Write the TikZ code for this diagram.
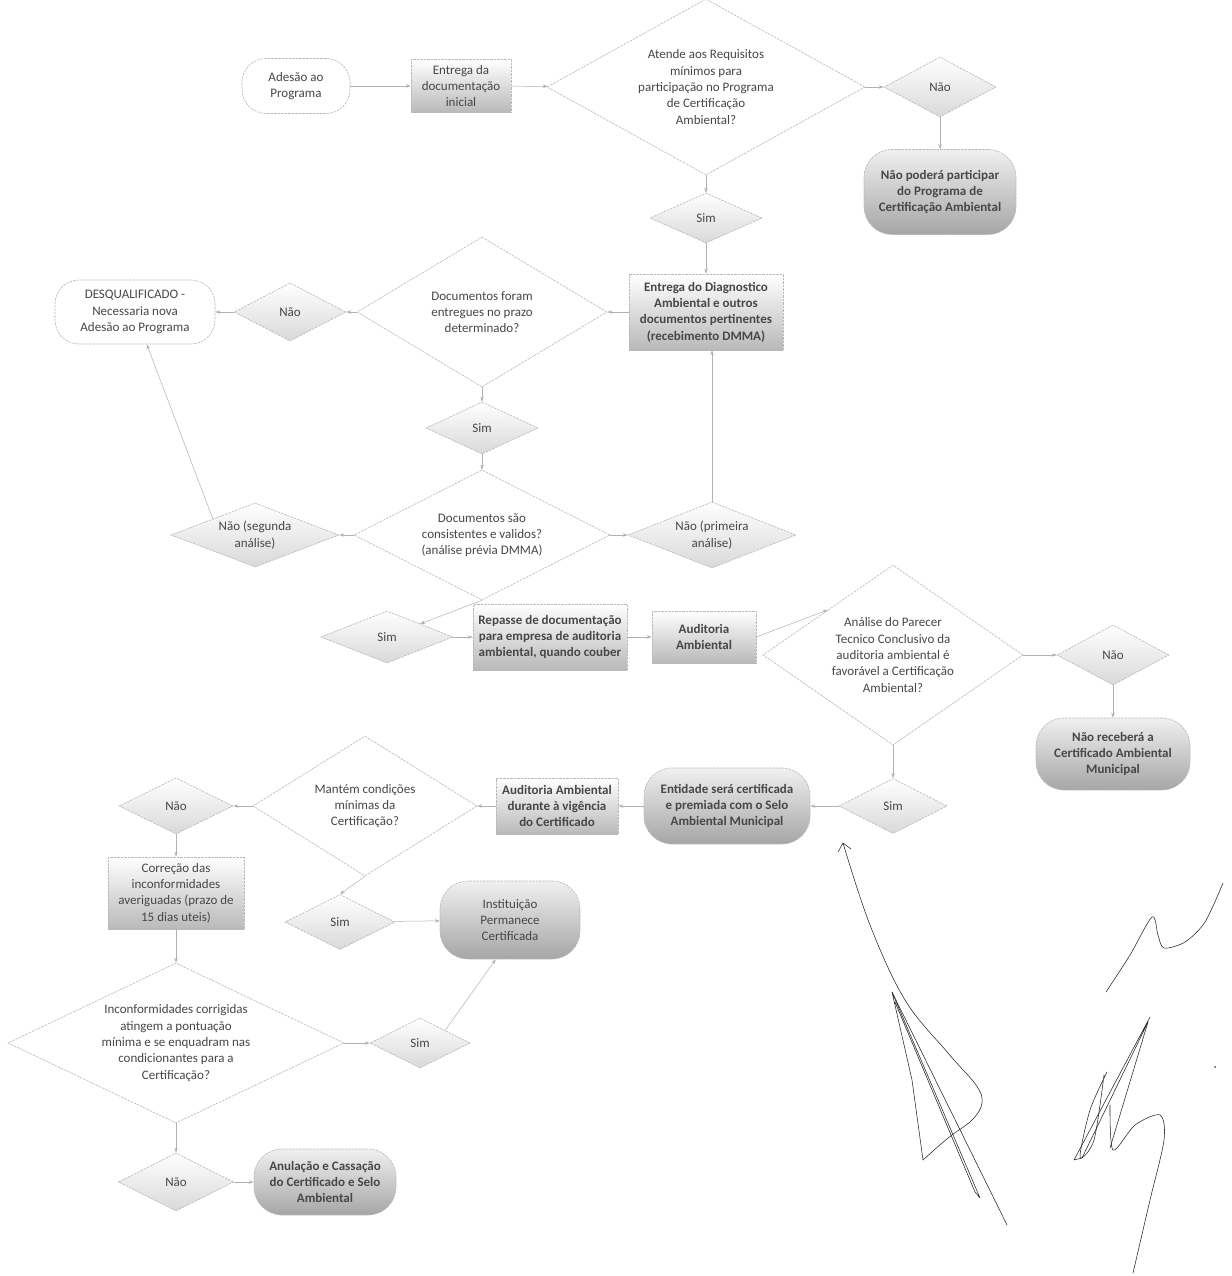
\documentclass[tikz,border=0pt]{standalone}
\usepackage{fontspec}
\setmainfont{Carlito}
\usepackage{tikz}
\usetikzlibrary{arrows.meta,shapes.geometric}

\begin{document}
\begin{tikzpicture}[x=1pt, y=-1pt,
  every node/.style={font=\fontsize{13}{16.3}\selectfont, text=black!72, align=center},
  fluxo/.style={draw=gray!60, line width=0.5pt, -{Stealth[length=5pt,width=3.5pt]}},
  borda/.style={draw=gray!55, line width=0.6pt, dash pattern=on 2.5pt off 1pt},
  decisao/.style={borda, diamond, aspect=2, inner sep=0pt, fill=white},
  resposta/.style={borda, diamond, aspect=2.6, inner sep=0pt, top color=white, bottom color=gray!30},
  processo/.style={borda, rectangle, inner sep=2pt, top color=white, bottom color=gray!55},
  negrito/.style={font=\fontsize{13}{16.3}\selectfont\bfseries},
  inicio/.style={borda, rectangle, rounded corners=24pt, fill=white},
  fim/.style={borda, rectangle, rounded corners=28pt, top color=gray!12, bottom color=gray!70, negrito},
  sig/.style={draw=black!85, line width=0.55pt, line cap=round, line join=round}]
  \useasboundingbox[fill=white] (0,0) rectangle (1231,1276);

  % Adesao e requisitos
  \node[inicio, minimum width=108pt, minimum height=55pt] (adesao) at (296,86) {Adesão ao\\Programa};
  \node[processo, minimum width=100pt, minimum height=53pt] (entrega) at (461,86) {Entrega da\\documentação\\inicial};
  \node[decisao, minimum width=318pt, minimum height=176pt] (requisitos) at (706,87)
    {Atende aos Requisitos\\mínimos para\\participação no Programa\\de Certificação\\Ambiental?};
  \node[resposta, minimum width=112pt, minimum height=60pt] (nao1) at (940,87) {Não};
  \node[fim, minimum width=152pt, minimum height=85pt] (naopod) at (940,192)
    {Não poderá participar\\do Programa de\\Certificação Ambiental};
  \node[resposta, minimum width=112pt, minimum height=50pt] (sim1) at (706,218) {Sim};
  \node[processo, negrito, minimum width=154pt, minimum height=76pt] (diag) at (706,312)
    {Entrega do Diagnostico\\Ambiental e outros\\documentos pertinentes\\(recebimento DMMA)};

  % Prazo e validade dos documentos
  \node[decisao, minimum width=250pt, minimum height=150pt] (prazo) at (482,312)
    {Documentos foram\\entregues no prazo\\determinado?};
  \node[resposta, minimum width=112pt, minimum height=58pt] (nao2) at (290,312) {Não};
  \node[inicio, minimum width=160pt, minimum height=64pt] (desq) at (135,312)
    {DESQUALIFICADO -\\Necessaria nova\\Adesão ao Programa};
  \node[resposta, minimum width=112pt, minimum height=52pt] (sim2) at (482,428) {Sim};
  \node[decisao, minimum width=256pt, minimum height=130pt] (validos) at (482,535)
    {Documentos são\\consistentes e validos?\\(análise prévia DMMA)};
  \node[resposta, minimum width=168pt, minimum height=64pt] (naoseg) at (255,535) {Não (segunda\\análise)};
  \node[resposta, minimum width=168pt, minimum height=66pt] (naopri) at (712,535) {Não (primeira\\análise)};

  % Auditoria
  \node[resposta, minimum width=132pt, minimum height=52pt] (sim3) at (387,637) {Sim};
  \node[processo, negrito, minimum width=154pt, minimum height=66pt] (repasse) at (550,637)
    {Repasse de documentação\\para empresa de auditoria\\ambiental, quando couber};
  \node[processo, negrito, minimum width=104pt, minimum height=52pt] (audit) at (704,637)
    {Auditoria\\Ambiental};
  \node[decisao, aspect=1.45, minimum width=260pt, minimum height=180pt] (parecer) at (893,655)
    {Análise do Parecer\\Tecnico Conclusivo da\\auditoria ambiental é\\favorável a Certificação\\Ambiental?};
  \node[resposta, minimum width=112pt, minimum height=60pt] (nao4) at (1113,655) {Não};
  \node[fim, minimum width=154pt, minimum height=72pt] (naorec) at (1113,754)
    {Não receberá a\\Certificado Ambiental\\Municipal};
  \node[resposta, minimum width=108pt, minimum height=55pt] (sim4) at (893,806) {Sim};
  \node[fim, minimum width=166pt, minimum height=76pt] (entidade) at (727,806)
    {Entidade será certificada\\e premiada com o Selo\\Ambiental Municipal};

  % Vigencia do certificado
  \node[processo, negrito, minimum width=122pt, minimum height=56pt] (auddur) at (557,806)
    {Auditoria Ambiental\\durante à vigência\\do Certificado};
  \node[decisao, minimum width=224pt, minimum height=140pt] (mantem) at (365,806)
    {Mantém condições\\mínimas da\\Certificação?};
  \node[resposta, minimum width=114pt, minimum height=56pt] (nao5) at (176,806) {Não};
  \node[processo, minimum width=136pt, minimum height=72pt] (correcao) at (176,893)
    {Correção das\\inconformidades\\averiguadas (prazo de\\15 dias uteis)};
  \node[resposta, minimum width=110pt, minimum height=55pt] (sim5) at (340,922) {Sim};
  \node[fim, font=\fontsize{13}{16.3}\selectfont, minimum width=140pt, minimum height=78pt] (inst) at (510,920)
    {Instituição\\Permanece\\Certificada};
  \node[decisao, minimum width=336pt, minimum height=160pt] (corrigidas) at (176,1043)
    {Inconformidades corrigidas\\atingem a pontuação\\mínima e se enquadram nas\\condicionantes para a\\Certificação?};
  \node[resposta, minimum width=100pt, minimum height=50pt] (sim6) at (420,1043) {Sim};
  \node[resposta, minimum width=115pt, minimum height=58pt] (nao6) at (176,1182) {Não};
  \node[fim, minimum width=142pt, minimum height=66pt] (anul) at (325,1182)
    {Anulação e Cassação\\do Certificado e Selo\\Ambiental};

  % Conectores
  \draw[fluxo] (adesao) -- (entrega);
  \draw[fluxo] (entrega) -- (requisitos);
  \draw[fluxo] (requisitos) -- (nao1);
  \draw[fluxo] (nao1) -- (naopod);
  \draw[fluxo] (requisitos) -- (sim1);
  \draw[fluxo] (sim1) -- (diag);
  \draw[fluxo] (diag) -- (prazo);
  \draw[fluxo] (prazo) -- (nao2);
  \draw[fluxo] (nao2) -- (desq);
  \draw[fluxo] (prazo) -- (sim2);
  \draw[fluxo] (sim2) -- (validos);
  \draw[fluxo] (validos) -- (naoseg);
  \draw[fluxo] (validos) -- (naopri);
  \draw[fluxo] (naopri.north) -- (naopri.north |- diag.south);
  \draw[fluxo] (naoseg.north west) -- (desq.290);
  \draw[fluxo] (validos.south) -- (sim3.north east);
  \draw[fluxo] (sim3) -- (repasse);
  \draw[fluxo] (repasse) -- (audit);
  \draw[fluxo] (audit.east) -- (parecer.north west);
  \draw[fluxo] (parecer) -- (nao4);
  \draw[fluxo] (nao4) -- (naorec);
  \draw[fluxo] (parecer) -- (sim4);
  \draw[fluxo] (sim4) -- (entidade);
  \draw[fluxo] (entidade) -- (auddur);
  \draw[fluxo] (auddur) -- (mantem);
  \draw[fluxo] (mantem) -- (nao5);
  \draw[fluxo] (nao5) -- (correcao);
  \draw[fluxo] (mantem.south) -- (sim5.north);
  \draw[fluxo] (sim5) -- (inst);
  \draw[fluxo] (correcao) -- (corrigidas);
  \draw[fluxo] (corrigidas) -- (sim6);
  \draw[fluxo] (sim6.north east) -- (inst.250);
  \draw[fluxo] (corrigidas) -- (nao6);
  \draw[fluxo] (nao6) -- (anul);

  % Assinaturas
  \draw[sig] plot[smooth, tension=0.6] coordinates {(843,843) (870,925) (905,1000) (948,1053) (976,1085) (982,1103) (972,1120) (948,1138) (923,1160)};
  \draw[sig] (923,1160) -- (912,1080) -- (892,992) -- (980,1198) -- (975,1192) -- (895,1002);
  \draw[sig] (892,992) -- (1007,1225);
  \draw[sig] (838,852) -- (843,843) -- (851,849);
  \draw[sig] plot[smooth] coordinates {(1106,992) (1130,955) (1152,917) (1158,935) (1164,948) (1185,942) (1205,922) (1223,883)};
  \draw[sig] (1150,1017) -- (1074,1160) -- (1082,1158) -- (1148,1022);
  \draw[sig] (1148,1022) -- (1110,1148);
  \draw[sig] plot[smooth] coordinates {(1107,1072) (1090,1110) (1080,1157) (1094,1140) (1104,1075)};
  \draw[sig] plot[smooth] coordinates {(1110,1105) (1113,1150) (1135,1125) (1160,1115) (1164,1140) (1150,1200) (1133,1273)};
  \fill[black!70] (1215,1067) circle (1pt);
\end{tikzpicture}
\end{document}
